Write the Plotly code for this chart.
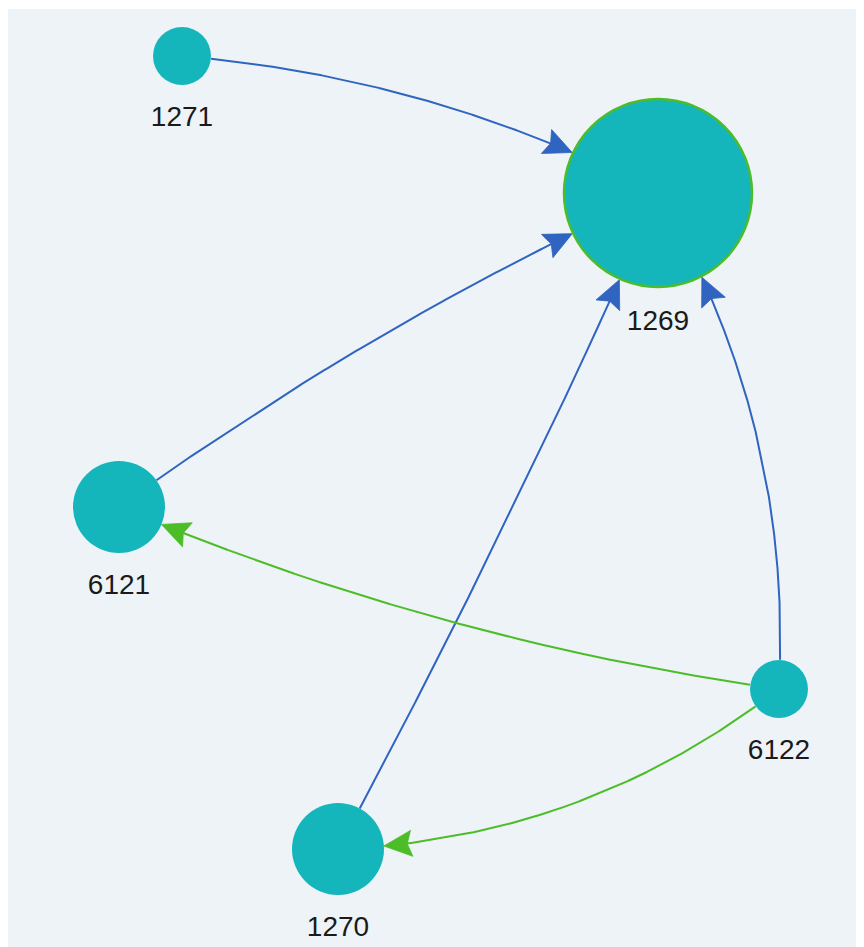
import numpy as np
import plotly.graph_objects as go

# ---- data ----
node_names = ["1269", "1270", "1271", "6121", "6122"]
node_x = [658, 338, 182, 119, 779]
node_y = [193, 849, 56, 507, 689]
node_size = [188, 92, 58, 92, 58]

edge_source = ["1271", "6121", "1270", "6122", "6122", "6122"]
edge_target = ["1269", "1269", "1269", "1269", "6121", "1270"]
edge_kind = ["blue", "blue", "blue", "blue", "green", "green"]
edge_curve = [0.10, 0.05, -0.02, -0.15, 0.065, 0.16]

# ---- styles ----
NODE_COLOR = "#14b6bc"
BORDER_GREEN = "#4cbd28"
EDGE_COLORS = {"blue": "#2f64c0", "green": "#4cbd28"}
BG = "#eef3f7"

idx = {n: i for i, n in enumerate(node_names)}
fig = go.Figure()


def bez(p0, c, p1, t):
    t = np.asarray(t)[:, None]
    return (1 - t) ** 2 * p0 + 2 * (1 - t) * t * c + t ** 2 * p1


for s, tname, kind, cv in zip(edge_source, edge_target, edge_kind, edge_curve):
    i, j = idx[s], idx[tname]
    p0 = np.array([node_x[i], node_y[i]], float)
    p1 = np.array([node_x[j], node_y[j]], float)
    d = p1 - p0
    c = (p0 + p1) / 2 + cv * np.array([d[1], -d[0]])
    ts = np.linspace(0, 1, 2001)
    pts = bez(p0, c, p1, ts)
    r0 = node_size[i] / 2
    r1 = node_size[j] / 2 + (1 if j == 0 else 0)
    d0 = np.hypot(*(pts - p0).T)
    d1 = np.hypot(*(pts - p1).T)
    t_start = ts[np.argmax(d0 > r0)]
    inside = np.where(d1 <= r1)[0]
    t_end = ts[inside[0]]
    tip = bez(p0, c, p1, [t_end])[0]
    tan = 2 * (1 - t_end) * (c - p0) + 2 * t_end * (p1 - c)
    u = tan / np.hypot(*tan)
    n = np.array([-u[1], u[0]])
    L, W = 28.0, 13.0
    back = tip - L * u
    notch = tip - 0.84 * L * u
    a = back + W * n
    b = back - W * n
    seg_t = ts[(ts >= t_start) & (ts <= t_end)]
    seg = bez(p0, c, p1, seg_t)
    dn = np.hypot(*(seg - tip).T)
    seg = seg[dn >= 0.8 * L]
    col = EDGE_COLORS[kind]
    fig.add_trace(go.Scatter(x=seg[:, 0], y=seg[:, 1], mode="lines",
                             line=dict(color=col, width=2), hoverinfo="skip",
                             showlegend=False))
    poly = np.array([tip, a, notch, b, tip])
    fig.add_trace(go.Scatter(x=poly[:, 0], y=poly[:, 1], mode="lines", fill="toself",
                             fillcolor=col, line=dict(color=col, width=0.8),
                             hoverinfo="skip", showlegend=False))

# nodes
fig.add_trace(go.Scatter(
    x=node_x, y=node_y, mode="markers",
    marker=dict(size=node_size, color=NODE_COLOR, opacity=1,
                line=dict(color=[BORDER_GREEN if k == 0 else NODE_COLOR for k in range(len(node_names))],
                          width=[2.5 if k == 0 else 0 for k in range(len(node_names))])),
    text=node_names, hoverinfo="text", showlegend=False))

# labels
lab_y = [y + s / 2 + 34 for y, s in zip(node_y, node_size)]
lab_y[0] += 2
fig.add_trace(go.Scatter(
    x=node_x, y=lab_y, mode="text", text=node_names, textposition="middle center",
    textfont=dict(family="Liberation Sans, Arial, sans-serif", size=28, color="#1a1a1a"),
    hoverinfo="skip", showlegend=False))

# page body has an 8px margin: map axes so data units equal screen pixels
fig.update_layout(
    width=864, height=947,
    margin=dict(l=0, r=0, t=1, b=0),
    paper_bgcolor="white", plot_bgcolor=BG,
    xaxis=dict(range=[8, 872], visible=False, fixedrange=True),
    yaxis=dict(range=[955, 9], visible=False, fixedrange=True),
)
fig.write_html("out.html")
